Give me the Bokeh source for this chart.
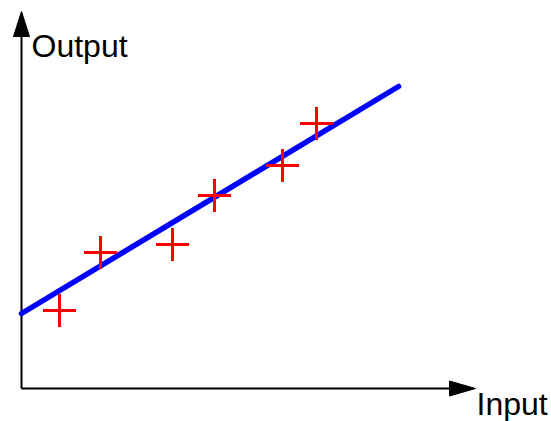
from bokeh.plotting import figure
from bokeh.models import Range1d
from bokeh.embed import file_html
from bokeh.resources import INLINE
from bokeh.core.properties import value

# data (units: arbitrary)
input_vals = [3.8, 7.9, 15.1, 19.3, 26.1, 29.5]
output_vals = [7.8, 13.6, 14.4, 19.3, 22.3, 26.5]
fit_x = [0.0, 37.7]
fit_y = [7.5, 30.2]
x_label = "Input"
y_label = "Output"

x_axis_end = 45.4
y_axis_end = 37.7

p = figure(width=551, height=421, output_backend="svg", toolbar_location=None,
           x_range=Range1d(-2.1, 53.0), y_range=Range1d(-3.3, 38.8),
           min_border=0, min_border_left=0, min_border_right=0,
           min_border_top=0, min_border_bottom=0)
p.axis.visible = False
p.grid.visible = False
p.outline_line_color = None
p.background_fill_color = "white"

# axes lines
p.line([0, x_axis_end - 2.0], [0, 0], line_color="black", line_width=2)
p.line([0, 0], [0, y_axis_end - 2.0], line_color="black", line_width=2)
# arrowheads
p.patch([x_axis_end - 2.6, x_axis_end, x_axis_end - 2.6], [0.75, 0, -0.75], color="black")
p.patch([-0.8, 0, 0.8], [y_axis_end - 2.5, y_axis_end, y_axis_end - 2.5], color="black")

# fit line
p.line(fit_x, fit_y, line_color="#0000ff", line_width=5.5, line_cap="round")

# data points
p.scatter(input_vals, output_vals, marker="cross", size=33, line_color="#ff0000", line_width=3)

p.text([1.0], [34.3], text=[y_label], text_font=value("Liberation Sans"),
       text_font_size="32px", text_baseline="alphabetic", text_align="left", text_color="black")
p.text([45.5], [-1.5], text=[x_label], text_font=value("Liberation Sans"),
       text_font_size="32px", text_baseline="alphabetic", text_align="left", text_color="black")

open("out.html", "w").write(file_html(p, INLINE))
